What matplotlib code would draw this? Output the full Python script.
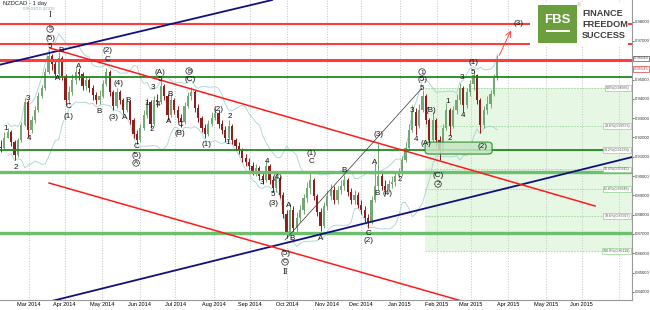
import numpy as np
import pandas as pd
import matplotlib
matplotlib.use("Agg")
import matplotlib.pyplot as plt
from matplotlib.patches import FancyBboxPatch, Rectangle

plt.rcParams['font.family'] = ['Liberation Sans', 'DejaVu Sans']

# NZD/CAD daily chart, one candle per two trading days starting 6 Feb 2014
start_date = '2014-02-06'
first_open = 0.9150
closes = [
    0.9145, 0.9197, 0.9228, 0.9176, 0.9109, 0.9187, 0.9265, 0.9384, 0.9239, 0.9290,
    0.9342, 0.9415, 0.9456, 0.9539, 0.9622, 0.9580, 0.9529, 0.9612, 0.9518, 0.9394,
    0.9435, 0.9498, 0.9539, 0.9529, 0.9467, 0.9498, 0.9456, 0.9420, 0.9394, 0.9415,
    0.9477, 0.9539, 0.9435, 0.9363, 0.9435, 0.9394, 0.9342, 0.9384, 0.9290, 0.9218,
    0.9187, 0.9249, 0.9316, 0.9384, 0.9270, 0.9394, 0.9384, 0.9467, 0.9415, 0.9316,
    0.9394, 0.9342, 0.9301, 0.9280, 0.9363, 0.9415, 0.9435, 0.9353, 0.9301, 0.9249,
    0.9218, 0.9270, 0.9301, 0.9327, 0.9270, 0.9239, 0.9197, 0.9259, 0.9187, 0.9156,
    0.9135, 0.9094, 0.9073, 0.9052, 0.9021, 0.9042, 0.9000, 0.8980, 0.9052, 0.8980,
    0.8938, 0.8990, 0.8902, 0.8803, 0.8710, 0.8824, 0.8731, 0.8783, 0.8824, 0.8886,
    0.8938, 0.8980, 0.8897, 0.8814, 0.8741, 0.8845, 0.8897, 0.8928, 0.8876, 0.8928,
    0.8949, 0.8980, 0.8917, 0.8876, 0.8902, 0.8850, 0.8824, 0.8783, 0.8762, 0.8876,
    0.8949, 0.9000, 0.8949, 0.8928, 0.8959, 0.8969, 0.9000, 0.9011, 0.9083, 0.9145,
    0.9239, 0.9332, 0.9259, 0.9342, 0.9415, 0.9290, 0.9187, 0.9290, 0.9187, 0.9135,
    0.9249, 0.9342, 0.9259, 0.9342, 0.9394, 0.9456, 0.9368, 0.9435, 0.9477, 0.9524,
    0.9394, 0.9265, 0.9342, 0.9373, 0.9425, 0.9508, 0.9601]
highs = [
    0.9187, 0.9228, 0.9249, 0.9239, 0.9187, 0.9197, 0.9280, 0.9404, 0.9394, 0.9311,
    0.9363, 0.9435, 0.9472, 0.9560, 0.9653, 0.9632, 0.9601, 0.9643, 0.9622, 0.9529,
    0.9467, 0.9529, 0.9560, 0.9560, 0.9539, 0.9518, 0.9508, 0.9472, 0.9435, 0.9446,
    0.9498, 0.9560, 0.9549, 0.9446, 0.9456, 0.9446, 0.9404, 0.9404, 0.9394, 0.9301,
    0.9239, 0.9270, 0.9342, 0.9404, 0.9394, 0.9415, 0.9425, 0.9498, 0.9477, 0.9425,
    0.9425, 0.9404, 0.9363, 0.9321, 0.9384, 0.9435, 0.9461, 0.9446, 0.9373, 0.9311,
    0.9270, 0.9290, 0.9332, 0.9353, 0.9342, 0.9290, 0.9259, 0.9290, 0.9270, 0.9197,
    0.9176, 0.9145, 0.9114, 0.9094, 0.9073, 0.9062, 0.9052, 0.9021, 0.9083, 0.9062,
    0.9000, 0.9021, 0.9000, 0.8917, 0.8824, 0.8860, 0.8845, 0.8814, 0.8850, 0.8907,
    0.8969, 0.9021, 0.8990, 0.8907, 0.8835, 0.8866, 0.8928, 0.8959, 0.8949, 0.8949,
    0.8980, 0.9005, 0.8990, 0.8938, 0.8928, 0.8917, 0.8876, 0.8845, 0.8803, 0.8897,
    0.9068, 0.9171, 0.9021, 0.8980, 0.8980, 0.9000, 0.9021, 0.9042, 0.9104, 0.9176,
    0.9270, 0.9368, 0.9353, 0.9373, 0.9446, 0.9425, 0.9301, 0.9332, 0.9301, 0.9208,
    0.9270, 0.9378, 0.9353, 0.9363, 0.9425, 0.9482, 0.9467, 0.9456, 0.9498, 0.9549,
    0.9529, 0.9404, 0.9363, 0.9415, 0.9446, 0.9529, 0.9627]
lows = [
    0.9125, 0.9135, 0.9197, 0.9156, 0.9083, 0.9099, 0.9176, 0.9259, 0.9202, 0.9223,
    0.9275, 0.9332, 0.9404, 0.9446, 0.9529, 0.9549, 0.9508, 0.9518, 0.9498, 0.9368,
    0.9373, 0.9420, 0.9477, 0.9498, 0.9446, 0.9446, 0.9435, 0.9394, 0.9373, 0.9373,
    0.9404, 0.9467, 0.9415, 0.9342, 0.9353, 0.9373, 0.9321, 0.9332, 0.9270, 0.9197,
    0.9166, 0.9176, 0.9239, 0.9301, 0.9249, 0.9259, 0.9358, 0.9373, 0.9394, 0.9290,
    0.9306, 0.9321, 0.9280, 0.9254, 0.9270, 0.9353, 0.9394, 0.9332, 0.9280, 0.9228,
    0.9197, 0.9208, 0.9259, 0.9290, 0.9249, 0.9218, 0.9176, 0.9187, 0.9166, 0.9135,
    0.9114, 0.9073, 0.9052, 0.9031, 0.9005, 0.9000, 0.8980, 0.8959, 0.8969, 0.8959,
    0.8917, 0.8917, 0.8886, 0.8783, 0.8679, 0.8700, 0.8700, 0.8710, 0.8762, 0.8803,
    0.8866, 0.8907, 0.8876, 0.8793, 0.8715, 0.8731, 0.8824, 0.8876, 0.8855, 0.8855,
    0.8907, 0.8928, 0.8897, 0.8855, 0.8855, 0.8835, 0.8803, 0.8762, 0.8731, 0.8752,
    0.8866, 0.8928, 0.8928, 0.8902, 0.8917, 0.8938, 0.8949, 0.8990, 0.9000, 0.9073,
    0.9135, 0.9228, 0.9213, 0.9249, 0.9332, 0.9270, 0.9145, 0.9176, 0.9156, 0.9083,
    0.9125, 0.9239, 0.9213, 0.9249, 0.9321, 0.9373, 0.9332, 0.9353, 0.9415, 0.9446,
    0.9373, 0.9223, 0.9249, 0.9321, 0.9353, 0.9415, 0.9498]

# horizontal support / resistance levels
red_levels = [0.9788, 0.9684, 0.9601]
red_widths = [1.5, 1.5, 2.2]
green_levels = [0.9513, 0.9135]
green_wide_levels = [0.9022, 0.8705]

# trend lines as (trading day index, price) anchor pairs
blue_lines = [[(-1, 0.9575), (160.0, 0.9912)],
              [(20.0, 0.8330), (372.0, 0.9099)]]
red_lines = [[(29.4, 0.9663), (350.0, 0.8845)],
             [(28.8, 0.8964), (273.5, 0.8348)]]
black_line = [(167.6, 0.8669), (248.2, 0.9456)]
arrow_line = [(292.9, 0.9612), (301.2, 0.9767)]

# fibonacci retracement
fib_high = 0.94566
fib_low = 0.86119
fib_start = 250.0
fib_levels = [0.0, 23.6, 38.2, 50.0, 61.8, 78.6, 100.0]

zone_box = [(250.0, 0.9114), (289.4, 0.9176)]

wave_labels = [
    ("1", 3.5, 0.9244), ("2", 9.4, 0.9042), ("3", 16.4, 0.9404), ("4", 17.0, 0.9192),
    ("5", 29.4, 0.9669), ("(5)", 29.4, 0.9715), ("B", 35.9, 0.9653), ("A", 34.1, 0.9503),
    ("C", 40.0, 0.9358), ("(1)", 40.0, 0.9311), ("A", 46.5, 0.9565), ("B", 58.2, 0.9337),
    ("(2)", 62.9, 0.9648), ("C", 62.9, 0.9606), ("(4)", 69.4, 0.9482), ("(3)", 66.5, 0.9301),
    ("B", 75.3, 0.9394), ("A", 73.5, 0.9301), ("C", 80.0, 0.9151), ("(5)", 80.0, 0.9104),
    ("1", 86.5, 0.9378), ("2", 89.4, 0.9239), ("3", 90.0, 0.9461), ("4", 92.9, 0.9373),
    ("5", 94.1, 0.9498), ("(A)", 94.1, 0.9539), ("B", 100.0, 0.9425), ("A", 99.4, 0.9285),
    ("C", 105.9, 0.9265), ("(B)", 105.9, 0.9223), ("(C)", 111.8, 0.9498),
    ("(1)", 121.2, 0.9166), ("(2)", 128.2, 0.9347), ("2", 135.3, 0.9306), ("1", 134.1, 0.9176),
    ("4", 157.1, 0.9078), ("3", 154.1, 0.8969), ("(4)", 162.9, 0.8995), ("5", 160.6, 0.8907),
    ("(3)", 160.6, 0.8860), ("A", 170.0, 0.8850), ("B", 171.8, 0.8679), ("(5)", 167.6, 0.8601),
    ("(1)", 182.9, 0.9119), ("C", 182.9, 0.9073), ("A", 188.8, 0.8674), ("B", 202.4, 0.9031),
    ("C", 216.5, 0.8705), ("(2)", 216.5, 0.8664), ("A", 220.6, 0.9068), ("(3)", 222.4, 0.9213),
    ("B", 221.8, 0.8912), ("(4)", 227.6, 0.8912), ("2", 235.3, 0.8980), ("3", 242.4, 0.9342),
    ("4", 244.7, 0.9187), ("5", 248.2, 0.9456), ("(5)", 248.2, 0.9498), ("(B)", 253.5, 0.9342),
    ("(A)", 250.6, 0.9171), ("(C)", 257.6, 0.9005), ("1", 263.5, 0.9384), ("2", 264.7, 0.9197),
    ("3", 271.8, 0.9513), ("4", 272.4, 0.9316), ("(1)", 278.2, 0.9586), ("5", 278.2, 0.9539),
    ("(2)", 283.5, 0.9151), ("(3)", 304.7, 0.9788)]
circled_labels = [("5", 29.4, 0.9762), ("A", 80.0, 0.9068), ("B", 111.2, 0.9544),
                  ("C", 167.6, 0.8555), ("1", 248.2, 0.9539), ("2", 257.6, 0.8959)]
roman_labels = [("I", 29.4, 0.9832), ("II", 167.6, 0.8503)]

price_boxes = [(0.9609, "0.96048", "#555555"), (0.9556, "0.95545", "#d04040")]

# ---------------------------------------------------------------
opens = [first_open] + closes[:-1]
n = len(closes)
xs = np.arange(n) * 2 + 0.5
days = pd.bdate_range(start_date, periods=372)

fig = plt.figure(figsize=(6.5, 3.1), dpi=100)
ax = fig.add_axes([0, 10 / 310, 632 / 650, 300 / 310])
ax.set_xlim(-0.06, 371.7)
ax.set_ylim(0.8358, 0.9912)

# month grid
month_idx = [i for i in range(1, len(days)) if days[i].month != days[i - 1].month]
month_lab = [days[i].strftime('%b %Y') for i in month_idx]
month_lab[-1] = ''  # last one is cut off in the terminal
ax.set_xticks(month_idx)
ax.set_xticklabels(month_lab, fontsize=4)
ax.grid(axis='x', color='#c4c4c4', ls=':', lw=0.7)
ax.tick_params(axis='x', length=0, pad=1.5)

ax.yaxis.tick_right()
yt = np.arange(0.84, 0.985, 0.01)
ax.set_yticks(yt)
ax.set_yticklabels(['' if abs(v - 0.96) < 1e-6 else '%.5f' % v for v in yt], fontsize=3.1)
ax.tick_params(axis='y', length=1.5, width=0.5, pad=0.6, colors='#333333')
for s in ['top', 'left']:
    ax.spines[s].set_visible(False)
for s in ['right', 'bottom']:
    ax.spines[s].set_color('#999999')
    ax.spines[s].set_linewidth(0.8)

# fibonacci zone
fib_prices = [fib_high - lv / 100 * (fib_high - fib_low) for lv in fib_levels]
ax.add_patch(Rectangle((fib_start, fib_low), 371.7 - fib_start, fib_high - fib_low,
                       facecolor='#e6f7e4', edgecolor='none', zorder=0))
for lv, fp in zip(fib_levels, fib_prices):
    ax.plot([fib_start, 371.7], [fp, fp], color='#9ad89a', lw=0.6, ls=(0, (2, 1.5)), zorder=0.5)
    ax.text(370.5, fp, '%.1f%%(%.5f)' % (lv, fp), fontsize=2.6, ha='right', va='center',
            color='#555555', zorder=6,
            bbox=dict(boxstyle='square,pad=0.25', fc='white', ec='#8fd08f', lw=0.5))

# bollinger bands
cs = pd.Series(closes)
mid = cs.rolling(10, min_periods=3).mean()
sd = cs.rolling(10, min_periods=3).std()
ax.plot(xs, mid + 2 * sd, color='#a8d2d2', lw=0.6, zorder=2)
ax.plot(xs, mid - 2 * sd, color='#a8d2d2', lw=0.6, zorder=2)

# candles
for x, o, h, l, c in zip(xs, opens, highs, lows, closes):
    col = '#74a874' if c >= o else '#8e1f1f'
    ax.vlines(x, l, h, color=col, lw=0.7, zorder=3)
    ax.bar(x, max(abs(c - o), 0.0004), bottom=min(o, c), width=1.3, color=col, lw=0, zorder=3)

# horizontal levels
for lvl, w in zip(red_levels, red_widths):
    ax.axhline(lvl, color='#ff3b3b', lw=w, zorder=4)
for lvl in green_levels:
    ax.axhline(lvl, color='#1e8a1e', lw=1.3, zorder=4)
for lvl in green_wide_levels:
    ax.axhline(lvl, color='#6cbf6c', lw=2.4, zorder=4)

# trend lines
for ln in blue_lines:
    ax.plot([p[0] for p in ln], [p[1] for p in ln], color='#101080', lw=1.3, zorder=4)
for ln in red_lines:
    ax.plot([p[0] for p in ln], [p[1] for p in ln], color='#ff1a1a', lw=1.1, zorder=4)
ax.plot([p[0] for p in black_line], [p[1] for p in black_line], color='#333333', lw=0.5, zorder=4)
ax.annotate('', xy=arrow_line[1], xytext=arrow_line[0], zorder=5,
            arrowprops=dict(arrowstyle='->', color='#ff3030', lw=0.6))

# (2) zone box
(zx0, zy0), (zx1, zy1) = zone_box
ax.add_patch(FancyBboxPatch((zx0, zy0), zx1 - zx0, zy1 - zy0,
                            boxstyle='round,pad=0,rounding_size=2.5', mutation_aspect=0.0006,
                            facecolor='#c4e6c4', edgecolor='#2a8a2a', lw=0.9, alpha=0.85, zorder=4))

# wave labels
for t, x, y in wave_labels:
    ax.text(x, y, t, fontsize=5.8, ha='center', va='center', color='#111111', zorder=6)
for t, x, y in circled_labels:
    ax.text(x, y, t, fontsize=4.6, ha='center', va='center', color='#111111', zorder=6,
            bbox=dict(boxstyle='circle,pad=0.12', fc='none', ec='#222222', lw=0.5))
for t, x, y in roman_labels:
    ax.text(x, y, t, fontsize=6, ha='center', va='center', color='#111111', zorder=6,
            family='Liberation Serif')

# current price tags on the right
for p, t, ec in price_boxes:
    ax.text(1.003, p, t, transform=ax.get_yaxis_transform(), fontsize=3.0, ha='left',
            va='center', color=ec, zorder=7, clip_on=False,
            bbox=dict(boxstyle='square,pad=0.2', fc='white', ec=ec, lw=0.5))

# title text
ax.text(0.005, 0.995, 'NZDCAD - 1 day', transform=ax.transAxes, fontsize=4.2,
        ha='left', va='top', color='#222222', zorder=7)
ax.text(0.036, 0.977, '0.96030,0.92335', transform=ax.transAxes, fontsize=3.2,
        ha='left', va='top', color='#7fb8c8', zorder=7)

# logo
fig.patches.append(Rectangle((530 / 650, 1 - 47 / 310), 98 / 650, 45 / 310,
                             transform=fig.transFigure, fc='white', ec='none', zorder=10))
fig.patches.append(Rectangle((538 / 650, 1 - 43 / 310), 39 / 650, 38 / 310,
                             transform=fig.transFigure, fc='#6b9e3c', ec='none', zorder=11))
fig.text(557.5 / 650, 1 - 20 / 310, 'FBS', color='white', fontsize=9.5, weight='bold',
         ha='center', va='center', zorder=12)
fig.lines.append(plt.Line2D([547 / 650, 569 / 650], [1 - 31 / 310, 1 - 31 / 310],
                            transform=fig.transFigure, color='white', lw=1.4, zorder=12))
fig.text(579 / 650, 1 - 6 / 310, '®', color='#999999', fontsize=3.5, ha='center',
         va='center', zorder=12)
for i, w in enumerate(['FINANCE', 'FREEDOM', 'SUCCESS']):
    fig.text(582 / 650, 1 - (13 + 11.5 * i) / 310, w, color='#3d3d3d', fontsize=6.6,
             weight='bold', ha='left', va='center', zorder=12)

fig.savefig('out.png', dpi=100)
